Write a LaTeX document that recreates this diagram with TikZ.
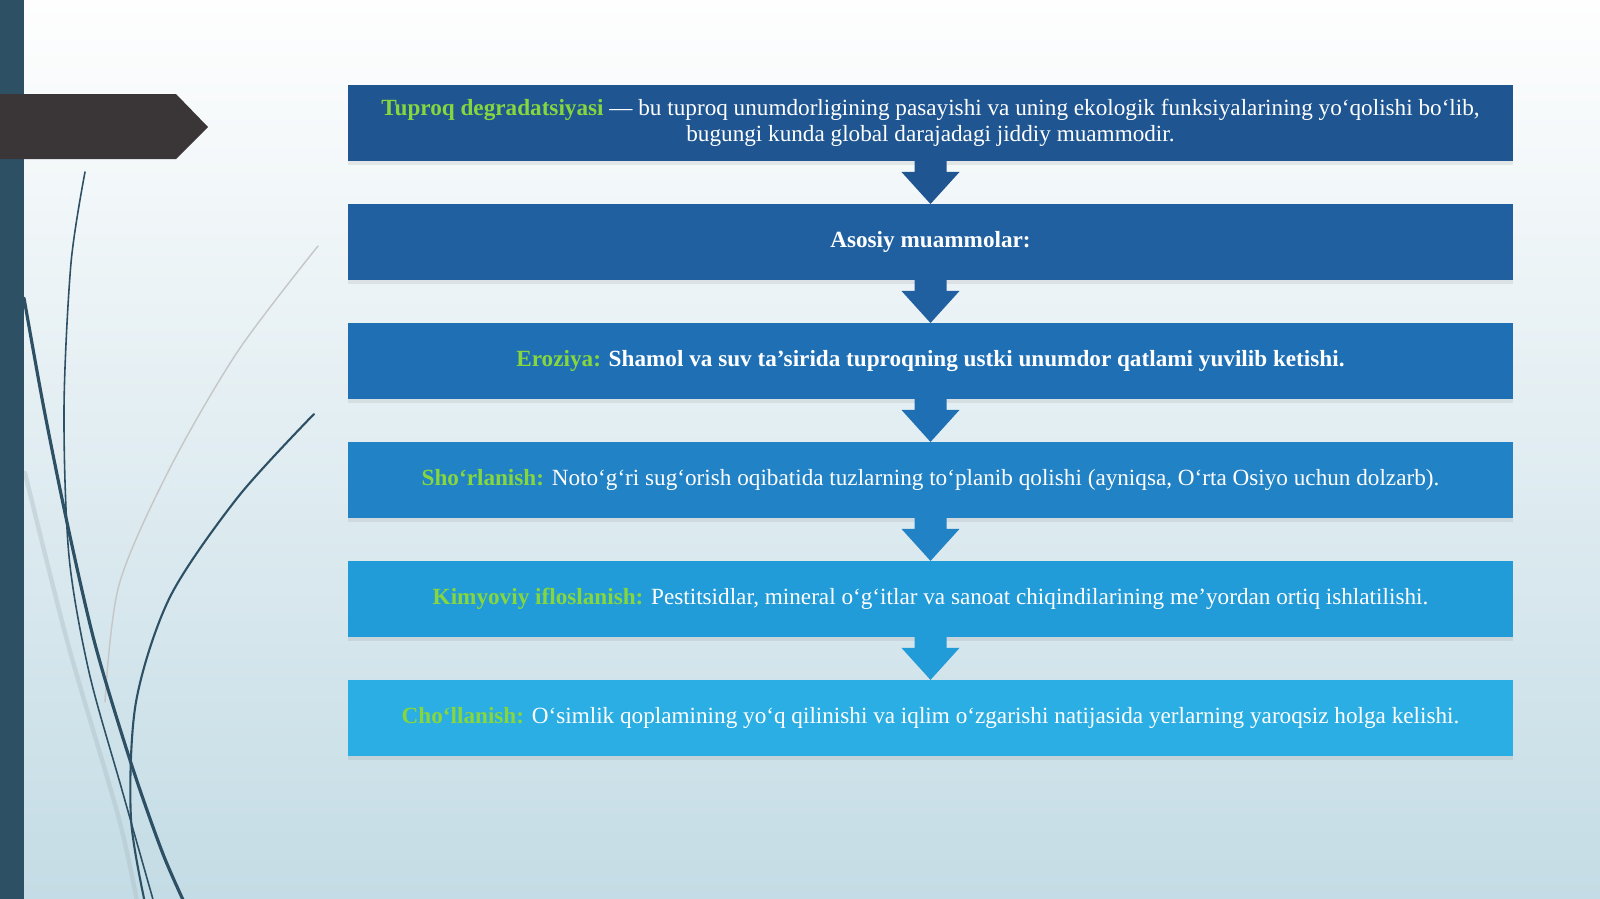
\documentclass[tikz,border=0pt]{standalone}
\usepackage{fontspec}
\setmainfont{Liberation Serif}
\usepackage{tikz}
\usetikzlibrary{positioning}
\usetikzlibrary{shadows}

\definecolor{bgtop}{RGB}{254,254,254}
\definecolor{bgbot}{RGB}{196,220,229}
\definecolor{barcol}{RGB}{45,80,101}
\definecolor{tabcol}{RGB}{58,54,55}
\definecolor{keygreen}{RGB}{134,214,62}
\definecolor{col1}{RGB}{31,85,145}
\definecolor{col2}{RGB}{32,96,160}
\definecolor{col3}{RGB}{31,111,181}
\definecolor{col4}{RGB}{33,130,198}
\definecolor{col5}{RGB}{34,155,217}
\definecolor{col6}{RGB}{42,174,227}

\newcommand{\kw}[1]{\textcolor{keygreen}{\textbf{#1}}}

\begin{document}
\begin{tikzpicture}[x=0.02cm,y=-0.02cm,
    box/.style={minimum width=23.3cm, minimum height=1.52cm, inner sep=0pt, outer sep=0pt, align=center,
        text=white, font=\fontsize{13.2}{14.8}\selectfont,
        drop shadow={opacity=0.15, shadow xshift=0pt, shadow yshift=-2.5pt}},
    swirl/.style={barcol, line cap=round}]
    \useasboundingbox (0,0) rectangle (1600,899);
    \shade[top color=bgtop, bottom color=bgbot] (0,0) rectangle (1600,899);

    % left decoration
    \begin{scope}
        \clip (0,0) rectangle (1600,899);
        \draw[swirl, color=bgbot!70!gray, opacity=0.45, line width=2.5pt] plot[smooth] coordinates {(25,473) (68,644) (119,819) (140,917)};
        \draw[swirl, color=gray!45, line width=0.8pt] plot[smooth] coordinates {(318,246) (238,351) (170,468) (119,585) (105,702)};
        \draw[swirl, line width=1.8pt] plot[smooth] coordinates {(24,298) (44,409) (68,527) (95,644) (130,760) (163,854) (191,917)};
        \draw[swirl, line width=0.9pt] plot[smooth] coordinates {(85,172) (71,263) (64,409) (69,556) (89,672) (122,790) (158,917)};
        \draw[swirl, line width=1.2pt] plot[smooth] coordinates {(314,414) (238,497) (170,597) (136,702) (131,819) (148,917)};
        \fill[barcol] (0,0) rectangle (24,899);
        \fill[tabcol] (0,94) -- (176,94) -- (208,127) -- (176,159) -- (0,159) -- cycle;
    \end{scope}

    % boxes
    \node[box, fill=col1] (b1) at (930.5,123)
        {\kw{Tuproq degradatsiyasi} — bu tuproq unumdorligining pasayishi va uning ekologik funksiyalarining yo‘qolishi bo‘lib,\\
        bugungi kunda global darajadagi jiddiy muammodir.};
    \node[box, fill=col2, below=0.86cm of b1] (b2) {\textbf{Asosiy muammolar:}};
    \node[box, fill=col3, below=0.86cm of b2] (b3)
        {\kw{Eroziya:} \textbf{Shamol va suv ta’sirida tuproqning ustki unumdor qatlami yuvilib ketishi.}};
    \node[box, fill=col4, below=0.86cm of b3] (b4)
        {\kw{Sho‘rlanish:} Noto‘g‘ri sug‘orish oqibatida tuzlarning to‘planib qolishi (ayniqsa, O‘rta Osiyo uchun dolzarb).};
    \node[box, fill=col5, below=0.86cm of b4] (b5)
        {\kw{Kimyoviy ifloslanish:} Pestitsidlar, mineral o‘g‘itlar va sanoat chiqindilarining me’yordan ortiq ishlatilishi.};
    \node[box, fill=col6, below=0.86cm of b5] (b6)
        {\kw{Cho‘llanish:} O‘simlik qoplamining yo‘q qilinishi va iqlim o‘zgarishi natijasida yerlarning yaroqsiz holga kelishi.};

    % arrows
    \foreach \i/\j in {1/2,2/3,3/4,4/5,5/6}
        \fill[col\i] ([xshift=-0.32cm]b\i.south) -- ([xshift=-0.32cm,yshift=-0.22cm]b\i.south)
            -- ([xshift=-0.58cm,yshift=-0.22cm]b\i.south) -- (b\j.north)
            -- ([xshift=0.58cm,yshift=-0.22cm]b\i.south) -- ([xshift=0.32cm,yshift=-0.22cm]b\i.south)
            -- ([xshift=0.32cm]b\i.south) -- cycle;
\end{tikzpicture}
\end{document}
